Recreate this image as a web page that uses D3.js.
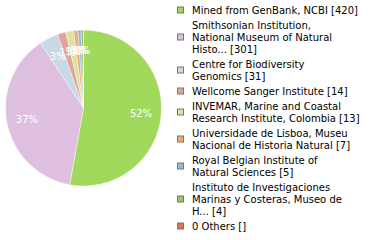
<!DOCTYPE html>
<html><head><meta charset="utf-8">
<script src="https://cdn.jsdelivr.net/npm/d3@7"></script>
<style>body{margin:0;background:#fff}svg{display:block}</style>
</head><body>
<svg id="c" width="380" height="240"></svg>
<script>
const categories = [
  "Mined from GenBank, NCBI [420]",
  "Smithsonian Institution,|National Museum of Natural|Histo... [301]",
  "Centre for Biodiversity|Genomics [31]",
  "Wellcome Sanger Institute [14]",
  "INVEMAR, Marine and Coastal|Research Institute, Colombia [13]",
  "Universidade de Lisboa, Museu|Nacional de Historia Natural [7]",
  "Royal Belgian Institute of|Natural Sciences [5]",
  "Instituto de Investigaciones|Marinas y Costeras, Museo de|H... [4]",
  "0 Others []"
];
const values = [420, 301, 31, 14, 13, 7, 5, 4, 0];
const colors = ["#a0d95b", "#dfbfe0", "#c9d8e5", "#e0a49c", "#dbe3a3", "#f0ac6c", "#94b6dc", "#9cc26e", "#e07156"];

const svg = d3.select("#c");
const cx = 83.5, cy = 108, r = 78;
const total = d3.sum(values);
const pie = d3.pie().sort(null).value(d => d)(values);
const arc = d3.arc().innerRadius(0).outerRadius(r);
const labelArc = d3.arc().innerRadius(r * 0.74).outerRadius(r * 0.74);
const g = svg.append("g").attr("transform", `translate(${cx},${cy})`);
g.selectAll("path").data(pie).join("path")
  .attr("d", arc).attr("fill", (d, i) => colors[i])
  .attr("stroke", "#fff").attr("stroke-width", 0.4);
g.selectAll("text").data(pie.filter(d => d.value > 0)).join("text")
  .attr("transform", d => `translate(${labelArc.centroid(d)})`)
  .attr("text-anchor", "middle").attr("dy", "0.35em")
  .attr("fill", "#fff").attr("font-family", "DejaVu Sans").attr("font-size", 10)
  .text(d => Math.floor(d.value / total * 100) + "%");

const lg = svg.append("g").attr("font-family", "DejaVu Sans").attr("font-size", 10).attr("fill", "#000");
let y = 10;
const lh = 12, gap = 3;
categories.forEach((c, i) => {
  const lines = c.split("|");
  const mid = y + (lines.length - 1) * lh / 2;
  lg.append("rect").attr("x", 177.5).attr("y", mid - 3).attr("width", 6).attr("height", 6)
    .attr("fill", colors[i]).attr("stroke", "#777").attr("stroke-width", 1);
  lines.forEach((l, j) => {
    lg.append("text").attr("x", 192).attr("y", y + j * lh).attr("dy", "0.35em").text(l);
  });
  y += lines.length * lh + gap;
});
</script>
</body></html>
